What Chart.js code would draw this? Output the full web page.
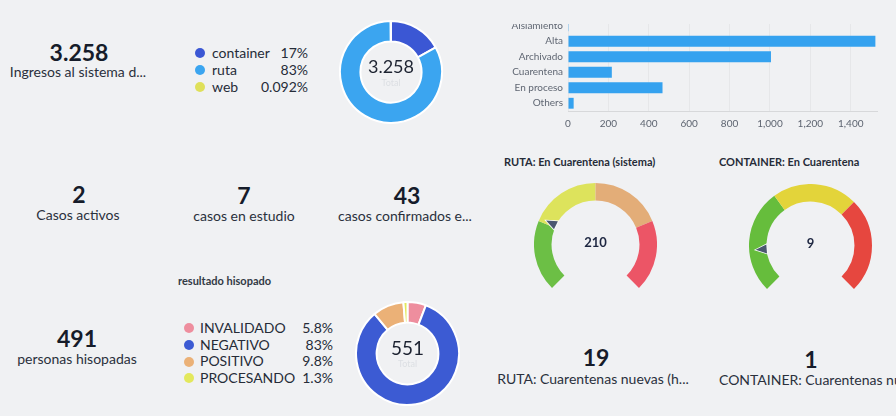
<!DOCTYPE html>
<html>
<head>
<meta charset="utf-8">
<script src="https://cdn.jsdelivr.net/npm/chart.js@4.4.1/dist/chart.umd.min.js"></script>
<style>
  body { margin:0; width:896px; height:416px; overflow:hidden; position:relative;
         background:#f0f1f3; font-family:Lato, sans-serif; color:#1d2331; }
  .num { position:absolute; width:180px; text-align:center; font-weight:700; font-size:23px;
         line-height:26px; color:#161c2a; }
  .lbl { position:absolute; width:220px; text-align:center; font-size:14px; line-height:16px;
         color:#2a303c; white-space:nowrap; }
  .title { position:absolute; font-size:11px; font-weight:700; line-height:14px; color:#262c38; white-space:nowrap; }
  .legend { position:absolute; font-size:14px; color:#262c38; }
  .legend .row { position:relative; }
  .legend .dot { position:absolute; width:10px; height:10px; border-radius:50%; }
  .legend .name { position:absolute; white-space:nowrap; }
  .legend .pct { position:absolute; right:0; white-space:nowrap; }
  canvas { position:absolute; }
  #barClip { position:absolute; left:490px; top:24px; width:406px; height:118px; overflow:hidden; }
</style>
</head>
<body>

<div class="num" id="n0" style="left:-11px;top:39px"></div>
<div class="lbl" id="l0" style="left:-32px;top:64px"></div>
<div class="num" id="n1" style="left:-11px;top:181px"></div>
<div class="lbl" id="l1" style="left:-32px;top:207px"></div>
<div class="num" id="n2" style="left:154px;top:182px"></div>
<div class="lbl" id="l2" style="left:134px;top:208px"></div>
<div class="num" id="n3" style="left:317px;top:182px"></div>
<div class="lbl" id="l3" style="left:295px;top:208px"></div>
<div class="num" id="n4" style="left:-13px;top:325px"></div>
<div class="lbl" id="l4" style="left:-33px;top:351px"></div>
<div class="num" id="n5" style="left:506px;top:344px"></div>
<div class="lbl" id="l5" style="left:483px;top:371px"></div>
<div class="num" id="n6" style="left:721px;top:346px"></div>
<div class="lbl" id="l6" style="left:719px;top:372px;text-align:left"></div>

<div class="legend" id="leg1" style="left:190px;top:44px;width:118px"></div>
<canvas id="donutIngresos" width="104" height="104" style="left:339px;top:20px"></canvas>

<div id="barClip"><canvas id="barEstado" width="400" height="130" style="left:0;top:-17px"></canvas></div>

<div class="title" style="left:504px;top:155px">RUTA: En Cuarentena (sistema)</div>
<div class="title" style="left:719px;top:155px">CONTAINER: En Cuarentena</div>
<canvas id="gaugeRuta" width="123" height="105" style="left:534px;top:183px"></canvas>
<canvas id="gaugeContainer" width="123" height="105" style="left:749px;top:184px"></canvas>

<div class="title" style="left:178px;top:274px;color:#333a45">resultado hisopado</div>
<div class="legend" id="leg2" style="left:178px;top:320px;width:155px"></div>
<canvas id="donutHisopado" width="105" height="105" style="left:355px;top:301px"></canvas>

<script>
// tarjetas de numero
const scalarValues = [3258, 2, 7, 43, 491, 19, 1]
const scalarLabels = ['Ingresos al sistema d...', 'Casos activos', 'casos en estudio',
  'casos confirmados e...', 'personas hisopadas', 'RUTA: Cuarentenas nuevas (h...',
  'CONTAINER: Cuarentenas nu...']

// ingresos por canal
const ingresoLabels = ['container', 'ruta', 'web']
const ingresoValues = [554, 2701, 3]
const ingresoColors = ['#3b57d4', '#3ba5f0', '#dfe05a']

// estados
const estadoLabels = ['Aislamiento', 'Alta', 'Archivado', 'Cuarentena', 'En proceso', 'Others']
const estadoValues = [1, 1522, 1005, 217, 468, 28]

// gauges
const rutaRanges = [200, 200, 200, 200]
const rutaColors = ['#6cbf45', '#dde35c', '#e3ad78', '#ec5566']
const rutaValue = 210
const containerRanges = [22, 18, 20]
const containerColors = ['#66bd3c', '#e3d43a', '#e6473f']
const containerValue = 9

// resultado hisopado
const hisopadoLabels = ['INVALIDADO', 'NEGATIVO', 'POSITIVO', 'PROCESANDO']
const hisopadoValues = [32, 458, 54, 7]
const hisopadoColors = ['#ee8e9e', '#3c5bd3', '#ebb177', '#e3e85c']

Chart.defaults.font.family = 'Lato'

const fmtNum = (n) => String(n).replace(/\B(?=(\d{3})+(?!\d))/g, '.')
const fmtPct = (v, total) => parseFloat((v / total * 100).toPrecision(2)) + '%'
const sum = (arr) => arr.reduce((a, b) => a + b, 0)

for (let i = 0; i < scalarValues.length; i++) {
  document.getElementById('n' + i).textContent = fmtNum(scalarValues[i])
  document.getElementById('l' + i).textContent = scalarLabels[i]
}

const buildLegend = (id, labels, values, colors, rowH, dotLeft, nameLeft) => {
  const total = sum(values)
  const el = document.getElementById(id)
  for (let i = 0; i < labels.length; i++) {
    const row = document.createElement('div')
    row.className = 'row'
    row.style.height = rowH + 'px'
    row.style.lineHeight = rowH + 'px'
    row.innerHTML = '<span class="dot" style="left:' + dotLeft + 'px;top:' + (rowH / 2 - 5) + 'px;background:' + colors[i] + '"></span>' +
      '<span class="name" style="left:' + nameLeft + 'px">' + labels[i] + '</span>' +
      '<span class="pct">' + fmtPct(values[i], total) + '</span>'
    el.appendChild(row)
  }
}
buildLegend('leg1', ingresoLabels, ingresoValues, ingresoColors, 17.2, 5, 22)
buildLegend('leg2', hisopadoLabels, hisopadoValues, hisopadoColors, 16.7, 6, 22)

const centerText = {
  id: 'centerText',
  afterDraw(chart, args, opts) {
    if (!opts.text) return
    const arc = chart.getDatasetMeta(0).data[0]
    const ctx = chart.ctx
    ctx.save()
    ctx.textAlign = 'center'
    ctx.textBaseline = 'middle'
    ctx.fillStyle = opts.color
    ctx.font = opts.weight + ' ' + opts.size + 'px Lato'
    ctx.fillText(opts.text, arc.x, arc.y + opts.dy)
    if (opts.sub) {
      ctx.fillStyle = '#dcdfe3'
      ctx.font = '9px Lato'
      ctx.fillText(opts.sub, arc.x, arc.y + opts.subDy)
    }
    ctx.restore()
  }
}

const gaugePointer = {
  id: 'gaugePointer',
  afterDatasetsDraw(chart, args, opts) {
    const arc = chart.getDatasetMeta(0).data[0]
    const total = sum(chart.data.datasets[0].data)
    const start = (chart.options.rotation - 90) * Math.PI / 180
    const a = start + Math.min(opts.value / total, 1) * chart.options.circumference * Math.PI / 180
    const ux = Math.cos(a), uy = Math.sin(a)
    const px = -uy, py = ux
    const rTip = arc.innerRadius + 11, rBase = arc.innerRadius
    const cx = arc.x, cy = arc.y
    const ctx = chart.ctx
    ctx.save()
    ctx.beginPath()
    ctx.moveTo(cx + ux * rTip, cy + uy * rTip)
    ctx.lineTo(cx + ux * rBase + px * 4.5, cy + uy * rBase + py * 4.5)
    ctx.lineTo(cx + ux * rBase - px * 4.5, cy + uy * rBase - py * 4.5)
    ctx.closePath()
    ctx.lineWidth = 1.5
    ctx.strokeStyle = '#ffffff'
    ctx.stroke()
    ctx.fillStyle = '#4b5870'
    ctx.fill()
    ctx.restore()
  }
}

const donut = (idGrafico, labels, values, colors, size) => {
  return new Chart(document.getElementById(idGrafico), {
    type: 'doughnut',
    data: {
      labels: labels,
      datasets: [{ data: values, backgroundColor: colors, borderColor: '#ffffff', borderWidth: 2 }]
    },
    options: {
      responsive: false,
      animation: false,
      cutout: '60%',
      plugins: {
        legend: { display: false },
        tooltip: { enabled: false },
        centerText: { text: fmtNum(sum(values)), sub: 'Total', size: size, weight: 'normal',
                      color: '#1d2331', dy: -5, subDy: 11 }
      }
    },
    plugins: [centerText]
  })
}

donut('donutIngresos', ingresoLabels, ingresoValues, ingresoColors, 18)
donut('donutHisopado', hisopadoLabels, hisopadoValues, hisopadoColors, 19)

const gauge = (idGrafico, ranges, colors, value) => {
  return new Chart(document.getElementById(idGrafico), {
    type: 'doughnut',
    data: {
      datasets: [{ data: ranges, backgroundColor: colors, borderWidth: 0 }]
    },
    options: {
      responsive: false,
      animation: false,
      rotation: -135,
      circumference: 270,
      cutout: '71.5%',
      plugins: {
        legend: { display: false },
        tooltip: { enabled: false },
        gaugePointer: { value: value },
        centerText: { text: String(value), size: 13, weight: 'bold', color: '#1d2640', dy: -2 }
      }
    },
    plugins: [gaugePointer, centerText]
  })
}

gauge('gaugeRuta', rutaRanges, rutaColors, rutaValue)
gauge('gaugeContainer', containerRanges, containerColors, containerValue)

new Chart(document.getElementById('barEstado'), {
  type: 'bar',
  data: {
    labels: estadoLabels,
    datasets: [{ data: estadoValues, backgroundColor: '#35a2ef', barPercentage: 0.7, categoryPercentage: 1 }]
  },
  options: {
    indexAxis: 'y',
    responsive: false,
    animation: false,
    locale: 'en-US',
    layout: { padding: { top: 4, right: 13, left: 0, bottom: 0 } },
    plugins: { legend: { display: false }, tooltip: { enabled: false } },
    scales: {
      x: {
        min: 0,
        max: 1530,
        ticks: { stepSize: 200, includeBounds: false, padding: 7, color: '#5d6470', font: { size: 10 } },
        grid: { color: 'rgba(0,0,0,0.04)', drawTicks: false },
        border: { color: 'rgba(0,0,0,0.10)' }
      },
      y: {
        afterFit: (scale) => { scale.width = 78 },
        ticks: { autoSkip: false, padding: 5, color: '#5f6672', font: { size: 10 } },
        grid: { display: false, drawTicks: false },
        border: { display: false }
      }
    }
  }
})
</script>
</body>
</html>
